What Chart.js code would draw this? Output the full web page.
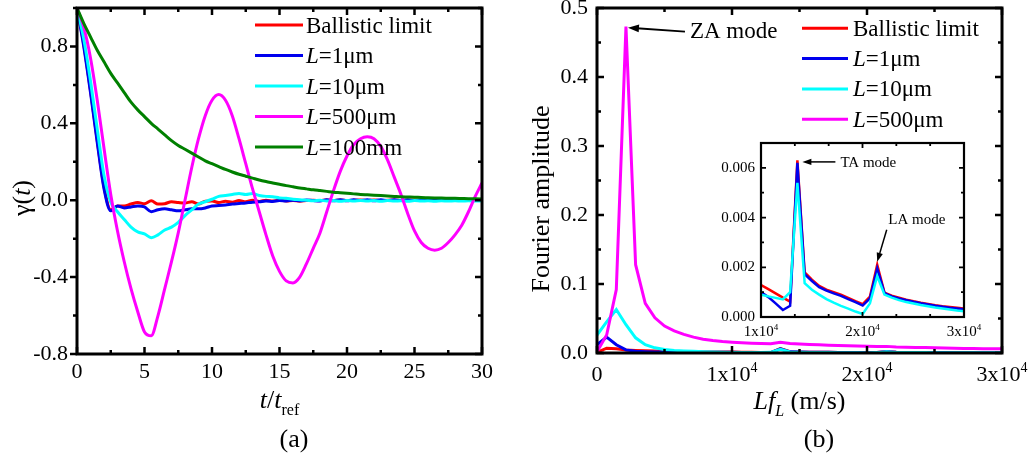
<!DOCTYPE html>
<html>
<head>
<meta charset="utf-8">
<script src="https://cdn.jsdelivr.net/npm/chart.js@4.4.1/dist/chart.umd.min.js"></script>
<style>
  body { margin: 0; background: #fff; width: 1031px; height: 457px; position: relative; overflow: hidden; }
  canvas { position: absolute; }
  #ca { left: 0; top: 0; }
  #cb { left: 510px; top: 0; }
  #ci { left: 700px; top: 125px; }
</style>
</head>
<body>
<canvas id="ca" width="500" height="457"></canvas>
<canvas id="cb" width="521" height="457"></canvas>
<canvas id="ci" width="290" height="225"></canvas>
<script>
// ---- panel (a): gamma(t) vs t/t_ref ----
const tA = [0,0.5,1,1.5,2,2.5,3,3.5,4,4.5,5,5.5,6,6.5,7,7.5,8,8.5,9,9.5,10,10.5,11,11.5,12,12.5,13,13.5,14,14.5,15,15.5,16,16.5,17,17.5,18,18.5,19,19.5,20,20.5,21,21.5,22,22.5,23,23.5,24,24.5,25,25.5,26,26.5,27,27.5,28,28.5,29,29.5,30];
const ballisticA = [1.0,0.81,0.57,0.31,0.07,-0.05,-0.03,-0.03,-0.02,-0.012,-0.018,-0.003,-0.02,-0.018,-0.008,-0.012,-0.015,-0.008,-0.02,-0.005,-0.004,-0.012,-0.005,-0.01,-0.002,-0.008,0.0,-0.006,0.0,-0.004,0.0,-0.004,-0.001,-0.005,-0.002,0.0,-0.002,0.001,-0.001,0.001,-0.002,0.0,0.001,-0.001,0.001,-0.002,0.0,0.001,-0.001,0.0,0.001,-0.001,0.0,0.0,-0.001,0.0,0.001,-0.001,0.0,0.0,0.0];
const l1umA = [1.0,0.8,0.56,0.3,0.06,-0.055,-0.03,-0.04,-0.035,-0.03,-0.035,-0.06,-0.05,-0.045,-0.05,-0.055,-0.05,-0.045,-0.045,-0.04,-0.03,-0.028,-0.025,-0.02,-0.017,-0.014,-0.01,-0.008,-0.004,-0.006,-0.002,-0.004,0.0,-0.003,0.001,-0.002,-0.004,0.002,-0.003,0.002,-0.003,0.003,-0.002,0.003,-0.003,0.002,-0.002,0.003,-0.002,0.002,-0.002,0.002,-0.002,0.001,-0.002,0.001,-0.001,0.001,-0.001,0.0,0.0];
const l10umA = [1.0,0.84,0.62,0.37,0.13,-0.01,-0.06,-0.1,-0.14,-0.165,-0.175,-0.195,-0.18,-0.155,-0.14,-0.115,-0.08,-0.05,-0.02,-0.008,0.005,0.02,0.025,0.03,0.035,0.03,0.035,0.025,0.02,0.018,0.012,0.01,0.005,0.003,0.0,-0.003,0.0,-0.004,-0.002,-0.005,-0.002,-0.004,-0.001,-0.004,-0.002,-0.005,-0.002,-0.004,-0.003,-0.005,-0.002,-0.004,-0.003,-0.005,-0.003,-0.004,-0.003,-0.004,-0.003,-0.004,-0.003];
const l500umA = [1.0,0.9,0.74,0.52,0.27,0.03,-0.16,-0.32,-0.46,-0.58,-0.685,-0.705,-0.6,-0.46,-0.32,-0.17,0.0,0.17,0.32,0.44,0.52,0.55,0.52,0.44,0.32,0.19,0.06,-0.06,-0.18,-0.29,-0.37,-0.42,-0.43,-0.4,-0.33,-0.25,-0.17,-0.06,0.05,0.15,0.23,0.29,0.32,0.33,0.32,0.28,0.21,0.12,0.03,-0.07,-0.16,-0.22,-0.25,-0.26,-0.25,-0.22,-0.18,-0.13,-0.06,0.02,0.09];
const l100mmA = [1.0,0.92,0.85,0.78,0.72,0.66,0.61,0.56,0.51,0.47,0.435,0.4,0.37,0.34,0.31,0.285,0.265,0.245,0.225,0.205,0.19,0.175,0.16,0.147,0.135,0.125,0.115,0.105,0.097,0.09,0.083,0.076,0.07,0.064,0.059,0.054,0.05,0.046,0.042,0.039,0.036,0.033,0.03,0.028,0.026,0.024,0.022,0.02,0.018,0.017,0.016,0.014,0.013,0.012,0.011,0.0105,0.01,0.009,0.008,0.0075,0.007];

// ---- panel (b): Fourier amplitude vs L*f_L ----
const fB = [0,715,1430,2145,2860,3575,4290,5005,5720,6435,7150,7865,8580,9295,10010,10725,11440,12155,12870,13585,14300,15015,15730,16445,17160,17875,18590,19305,20020,20735,21450,22165,22880,23595,24310,25025,25740,26455,27170,27885,28600,29315,30030];
const ballisticB = [0.001,0.007,0.006,0.0045,0.0038,0.0033,0.0029,0.0025,0.0022,0.002,0.0018,0.0016,0.0015,0.0014,0.00128,0.00112,0.00095,0.00078,0.00062,0.0063,0.0018,0.0015,0.00125,0.0011,0.001,0.0009,0.00077,0.00064,0.00052,0.00082,0.0021,0.00098,0.00086,0.00078,0.0007,0.00063,0.00057,0.00052,0.00047,0.00043,0.0004,0.00037,0.00034];
const l1umB = [0.012,0.023,0.012,0.0045,0.0025,0.0019,0.0016,0.0014,0.0013,0.0012,0.00115,0.0011,0.00108,0.00105,0.001,0.0008,0.00055,0.00028,0.00045,0.0062,0.00172,0.00145,0.0012,0.00106,0.00095,0.00085,0.00072,0.0006,0.00046,0.00075,0.00196,0.00096,0.00083,0.00075,0.00068,0.00061,0.00055,0.0005,0.00045,0.00041,0.00037,0.00034,0.00031];
const l10umB = [0.026,0.045,0.063,0.041,0.022,0.012,0.0075,0.0052,0.0038,0.003,0.0024,0.0019,0.0015,0.0011,0.0009,0.00083,0.00077,0.00071,0.001,0.0054,0.00136,0.0011,0.0009,0.00072,0.00058,0.00045,0.00034,0.00022,0.00012,0.00055,0.00165,0.0009,0.00078,0.00068,0.0006,0.00054,0.00048,0.00043,0.00038,0.00034,0.0003,0.00026,0.00023];
const l500umB = [0.002,0.026,0.092,0.473,0.128,0.072,0.051,0.039,0.032,0.027,0.023,0.02,0.018,0.0165,0.0155,0.0148,0.0142,0.0137,0.0133,0.0155,0.0137,0.013,0.0124,0.0119,0.0114,0.011,0.0106,0.0101,0.0097,0.0094,0.0096,0.0088,0.0084,0.0081,0.0078,0.0075,0.0072,0.007,0.0067,0.0065,0.0063,0.0061,0.006];

const bTicks = [0, 10000, 20000, 30000];
const bTickMant = ['0', '1', '2', '3'];
const insetTicks = [10000, 20000, 30000];
const insetTickMant = ['1', '2', '3'];

const FONT = '"Liberation Serif", "Times New Roman", serif';
const colors = ['#ff0000', '#0000ee', '#00ffff', '#ff00ff', '#008000'];
const names = [
  [{t: 'Ballistic limit'}],
  [{t: 'L', i: true}, {t: '=1\u03bcm'}],
  [{t: 'L', i: true}, {t: '=10\u03bcm'}],
  [{t: 'L', i: true}, {t: '=500\u03bcm'}],
  [{t: 'L', i: true}, {t: '=100mm'}]
];

function drawParts(ctx, parts, x, y, size, align) {
  const fonts = parts.map(p => (p.i ? 'italic ' : '') + Math.round(p.s ? size * 0.62 : size) + 'px ' + FONT);
  const widths = parts.map((p, k) => { ctx.font = fonts[k]; return ctx.measureText(p.t).width; });
  const total = widths.reduce((a, b) => a + b, 0);
  let cx = align === 'center' ? x - total / 2 : (align === 'right' ? x - total : x);
  ctx.textAlign = 'left';
  ctx.textBaseline = 'alphabetic';
  parts.forEach((p, k) => {
    ctx.font = fonts[k];
    const dy = p.s === 'sub' ? size * 0.28 : (p.s === 'sup' ? -size * 0.42 : 0);
    ctx.fillText(p.t, cx, y + dy);
    cx += widths[k];
  });
}

function drawLegend(ctx, n, x0, y0, dy, len, gap, size) {
  for (let k = 0; k < n; k++) {
    const y = y0 + k * dy;
    ctx.strokeStyle = colors[k];
    ctx.lineWidth = 3;
    ctx.beginPath(); ctx.moveTo(x0, y); ctx.lineTo(x0 + len, y); ctx.stroke();
    ctx.fillStyle = '#000';
    drawParts(ctx, names[k], x0 + len + gap, y + size * 0.33, size, 'left');
  }
}

function arrow(ctx, x1, y1, x2, y2, head, lw) {
  const ang = Math.atan2(y2 - y1, x2 - x1);
  const c = Math.cos(ang), s = Math.sin(ang);
  ctx.strokeStyle = '#000'; ctx.fillStyle = '#000'; ctx.lineWidth = lw;
  ctx.beginPath(); ctx.moveTo(x1, y1); ctx.lineTo(x2 - c * head * 0.8, y2 - s * head * 0.8); ctx.stroke();
  ctx.beginPath();
  ctx.moveTo(x2, y2);
  ctx.lineTo(x2 - head * c + head * 0.35 * s, y2 - head * s - head * 0.35 * c);
  ctx.lineTo(x2 - head * c - head * 0.35 * s, y2 - head * s + head * 0.35 * c);
  ctx.closePath(); ctx.fill();
}

// frame box + inward/outward tick marks on all four sides
function frameTicks(o) {
  return {
    id: 'frame',
    afterDraw(chart) {
      const ctx = chart.ctx, a = chart.chartArea, sx = chart.scales.x, sy = chart.scales.y;
      ctx.save();
      ctx.strokeStyle = '#000';
      ctx.lineWidth = o.tw;
      ctx.beginPath();
      const nx = Math.round((sx.max - sx.min) / o.xStep);
      for (let i = 0; i <= nx; i++) {
        const px = sx.getPixelForValue(sx.min + i * o.xStep);
        const len = i % o.xEvery === 0 ? o.major : o.minor;
        ctx.moveTo(px, a.bottom); ctx.lineTo(px, a.bottom - len);
        ctx.moveTo(px, a.top); ctx.lineTo(px, a.top + len);
      }
      const ny = Math.round((sy.max - sy.min) / o.yStep);
      for (let i = 0; i <= ny; i++) {
        const py = sy.getPixelForValue(sy.min + i * o.yStep);
        const len = i % o.yEvery === 0 ? o.major : o.minor;
        ctx.moveTo(a.left, py); ctx.lineTo(o.leftOut ? a.left - len : a.left + len, py);
        ctx.moveTo(a.right, py); ctx.lineTo(a.right - len, py);
      }
      ctx.stroke();
      ctx.lineWidth = o.lw;
      ctx.strokeRect(a.left, a.top, a.right - a.left, a.bottom - a.top);
      ctx.restore();
    }
  };
}

function lineSets(xs, ys, n, bw) {
  return ys.slice(0, n).map((vals, k) => ({
    data: vals.map((v, i) => ({x: xs[i], y: v})),
    borderColor: colors[k],
    borderWidth: bw,
    order: 10 - k,
    pointRadius: 0,
    fill: false
  }));
}

function tickFont(size) {
  return {family: FONT, size: size};
}

Chart.defaults.font.family = FONT;
Chart.defaults.color = '#000';

// ---------- chart (a) ----------
new Chart(document.getElementById('ca'), {
  type: 'line',
  data: {datasets: lineSets(tA, [ballisticA, l1umA, l10umA, l500umA, l100mmA], 5, 3)},
  options: {
    responsive: false, animation: false, devicePixelRatio: 1, events: [],
    layout: {padding: {top: 8, right: 18, left: 0, bottom: 0}},
    elements: {line: {cubicInterpolationMode: 'monotone'}},
    scales: {
      x: {
        type: 'linear', min: 0, max: 30,
        grid: {display: false, drawTicks: false}, border: {display: false},
        ticks: {stepSize: 5, padding: 5, maxRotation: 0, font: tickFont(22), color: '#000'},
        afterFit: s => { s.height = 103; s.paddingLeft = 0; s.paddingRight = 0; }
      },
      y: {
        min: -0.8, max: 1.0,
        grid: {display: false, drawTicks: false}, border: {display: false},
        ticks: {stepSize: 0.4, includeBounds: false, padding: 9, font: tickFont(22), color: '#000',
                callback: v => v.toFixed(1)},
        afterFit: s => { s.width = 77; s.paddingTop = 0; s.paddingBottom = 0; }
      }
    },
    plugins: {legend: {display: false}, tooltip: {enabled: false}}
  },
  plugins: [
    frameTicks({lw: 3, tw: 2.5, major: 7, minor: 4, xStep: 2.5, xEvery: 2, yStep: 0.2, yEvery: 2, leftOut: true}),
    {
      id: 'decorA',
      afterDraw(chart) {
        const ctx = chart.ctx, a = chart.chartArea;
        ctx.save();
        drawLegend(ctx, 5, 255, 25, 30.5, 48, 3, 23);
        ctx.fillStyle = '#000';
        ctx.save();
        ctx.translate(30, 198);
        ctx.rotate(-Math.PI / 2);
        drawParts(ctx, [{t: '\u03b3('}, {t: 't', i: true}, {t: ')'}], 0, 0, 26, 'center');
        ctx.restore();
        drawParts(ctx, [{t: 't', i: true}, {t: '/'}, {t: 't', i: true}, {t: 'ref', s: 'sub'}], (a.left + a.right) / 2, 408, 26, 'center');
        drawParts(ctx, [{t: '(a)'}], 294, 447, 26, 'center');
        ctx.restore();
      }
    }
  ]
});

// ---------- chart (b) ----------
new Chart(document.getElementById('cb'), {
  type: 'line',
  data: {datasets: lineSets(fB, [ballisticB, l1umB, l10umB, l500umB], 4, 3)},
  options: {
    responsive: false, animation: false, devicePixelRatio: 1, events: [],
    layout: {padding: {top: 8, right: 29, left: 0, bottom: 0}},
    elements: {line: {tension: 0}},
    scales: {
      x: {
        type: 'linear', min: 0, max: 30000,
        grid: {display: false, drawTicks: false}, border: {display: false},
        ticks: {display: false, stepSize: 10000},
        afterFit: s => { s.height = 104; s.paddingLeft = 0; s.paddingRight = 0; }
      },
      y: {
        min: 0, max: 0.5,
        grid: {display: false, drawTicks: false}, border: {display: false},
        ticks: {stepSize: 0.1, padding: 9, font: tickFont(22), color: '#000', callback: v => v.toFixed(1)},
        afterFit: s => { s.width = 87; s.paddingTop = 0; s.paddingBottom = 0; }
      }
    },
    plugins: {legend: {display: false}, tooltip: {enabled: false}}
  },
  plugins: [
    frameTicks({lw: 3, tw: 2.5, major: 7, minor: 4, xStep: 5000, xEvery: 2, yStep: 0.05, yEvery: 2, leftOut: false}),
    {
      id: 'decorB',
      afterDraw(chart) {
        const ctx = chart.ctx, a = chart.chartArea, sx = chart.scales.x, sy = chart.scales.y;
        ctx.save();
        ctx.fillStyle = '#000';
        bTicks.forEach((v, k) => {
          const px = sx.getPixelForValue(v);
          const parts = v === 0 ? [{t: bTickMant[k]}] : [{t: bTickMant[k] + 'x10'}, {t: '4', s: 'sup'}];
          drawParts(ctx, parts, px, 381, 22, 'center');
        });
        drawLegend(ctx, 4, 292, 28.3, 30.3, 46, 5, 23);
        ctx.fillStyle = '#000';
        ctx.save();
        ctx.translate(39, 199);
        ctx.rotate(-Math.PI / 2);
        drawParts(ctx, [{t: 'Fourier amplitude'}], 0, 0, 26, 'center');
        ctx.restore();
        drawParts(ctx, [{t: 'Lf', i: true}, {t: 'L', i: true, s: 'sub'}, {t: ' (m/s)'}], (a.left + a.right) / 2, 409, 26, 'center');
        drawParts(ctx, [{t: '(b)'}], 309, 447, 26, 'center');
        // ZA mode label at the 500um peak
        const px = sx.getPixelForValue(fB[3]), py = sy.getPixelForValue(l500umB[3]);
        arrow(ctx, px + 59, py + 5, px + 2, py + 1, 11, 1.8);
        ctx.fillStyle = '#000';
        drawParts(ctx, [{t: 'ZA mode'}], px + 64, py + 11.5, 23, 'left');
        ctx.restore();
      }
    }
  ]
});

// ---------- inset ----------
new Chart(document.getElementById('ci'), {
  type: 'line',
  data: {datasets: lineSets(fB, [ballisticB, l1umB, l10umB], 3, 2.5)},
  options: {
    responsive: false, animation: false, devicePixelRatio: 1, events: [],
    layout: {padding: {top: 18, right: 26, left: 0, bottom: 0}},
    elements: {line: {tension: 0}},
    scales: {
      x: {
        type: 'linear', min: 10000, max: 30000,
        grid: {display: false, drawTicks: false}, border: {display: false},
        ticks: {display: false, stepSize: 10000},
        afterFit: s => { s.height = 33; s.paddingLeft = 0; s.paddingRight = 0; }
      },
      y: {
        min: 0, max: 0.007,
        grid: {display: false, drawTicks: false}, border: {display: false},
        ticks: {stepSize: 0.002, includeBounds: false, padding: 6, font: tickFont(15), color: '#000',
                callback: v => v.toFixed(3)},
        afterFit: s => { s.width = 61; s.paddingTop = 0; s.paddingBottom = 0; }
      }
    },
    plugins: {legend: {display: false}, tooltip: {enabled: false}}
  },
  plugins: [
    frameTicks({lw: 2.2, tw: 1.8, major: 5, minor: 3, xStep: 10000 / 3, xEvery: 3, yStep: 0.001, yEvery: 2, leftOut: false}),
    {
      id: 'decorInset',
      afterDraw(chart) {
        const ctx = chart.ctx, sx = chart.scales.x, sy = chart.scales.y;
        ctx.save();
        ctx.fillStyle = '#000';
        insetTicks.forEach((v, k) => {
          drawParts(ctx, [{t: insetTickMant[k] + 'x10'}, {t: '4', s: 'sup'}], sx.getPixelForValue(v), 211, 15, 'center');
        });
        // TA mode
        let px = sx.getPixelForValue(fB[19]), py = sy.getPixelForValue(ballisticB[19]);
        arrow(ctx, px + 38, py + 1.5, px + 5, py + 1.5, 9, 1.5);
        ctx.fillStyle = '#000';
        drawParts(ctx, [{t: 'TA mode'}], px + 43, py + 6.5, 15, 'left');
        // LA mode
        px = sx.getPixelForValue(fB[30]); py = sy.getPixelForValue(ballisticB[30]);
        arrow(ctx, px + 9.5, py - 35, px, py - 3, 9, 1.5);
        ctx.fillStyle = '#000';
        drawParts(ctx, [{t: 'LA mode'}], px + 11, py - 40.6, 15, 'left');
        ctx.restore();
      }
    }
  ]
});
</script>
</body>
</html>
